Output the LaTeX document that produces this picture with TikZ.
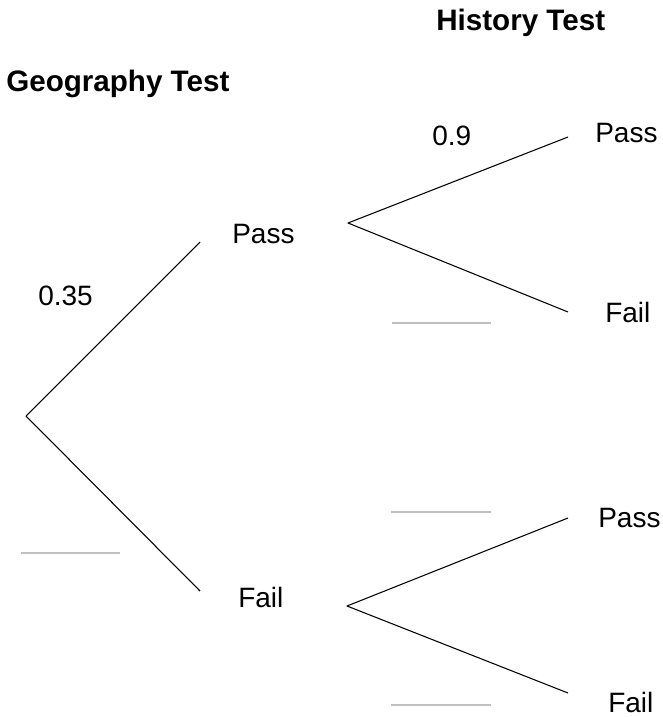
\documentclass[tikz,border=0pt]{standalone}
\usepackage{fontspec}
\setmainfont{Liberation Sans}
\begin{document}
\begin{tikzpicture}[x=0.75pt,y=-0.75pt,
  branch/.style={draw=black, line width=0.8pt, line join=round},
  blank/.style={draw=black!25, line width=1.6pt},
  lbl/.style={font=\fontsize{21}{25}\selectfont, inner sep=0pt, anchor=base west},
  ttl/.style={font=\fontsize{22.2}{26}\selectfont\bfseries, inner sep=0pt, anchor=base west}]
\useasboundingbox (0,0) rectangle (662,717);
% titles
\node[ttl] (hist) at (436,31) {History Test};
\node[ttl] (geog) at (6,91) {Geography Test};
% branch points
\coordinate (root) at (26,416);
\coordinate (gp) at (200,242);
\coordinate (gf) at (200,591);
\coordinate (sp) at (348,223);
\coordinate (pp) at (568,137);
\coordinate (pf) at (568,312);
\coordinate (sf) at (347,606);
\coordinate (fp) at (568,518);
\coordinate (ff) at (568,693);
% branches
\draw[branch] (gp) -- (root) -- (gf);
\draw[branch] (pp) -- (sp) -- (pf);
\draw[branch] (fp) -- (sf) -- (ff);
% labels
\node[lbl] (lgp) at (232,243) {Pass};
\node[lbl] (lgf) at (238,607) {Fail};
\node[lbl] (lpp) at (595,142) {Pass};
\node[lbl] (lpf) at (605,322) {Fail};
\node[lbl] (lfp) at (598,527) {Pass};
\node[lbl] (lff) at (608,712) {Fail};
\node[lbl] (p35) at (38,305) {0.35};
\node[lbl] (p9) at (432,145) {0.9};
% blanks
\coordinate (b1a) at (21,553); \coordinate (b1b) at (120,553);
\coordinate (b2a) at (392,323); \coordinate (b2b) at (491,323);
\coordinate (b3a) at (391,512); \coordinate (b3b) at (491,512);
\coordinate (b4a) at (391,705); \coordinate (b4b) at (491,705);
\draw[blank] (b1a) -- (b1b);
\draw[blank] (b2a) -- (b2b);
\draw[blank] (b3a) -- (b3b);
\draw[blank] (b4a) -- (b4b);
\end{tikzpicture}
\end{document}
